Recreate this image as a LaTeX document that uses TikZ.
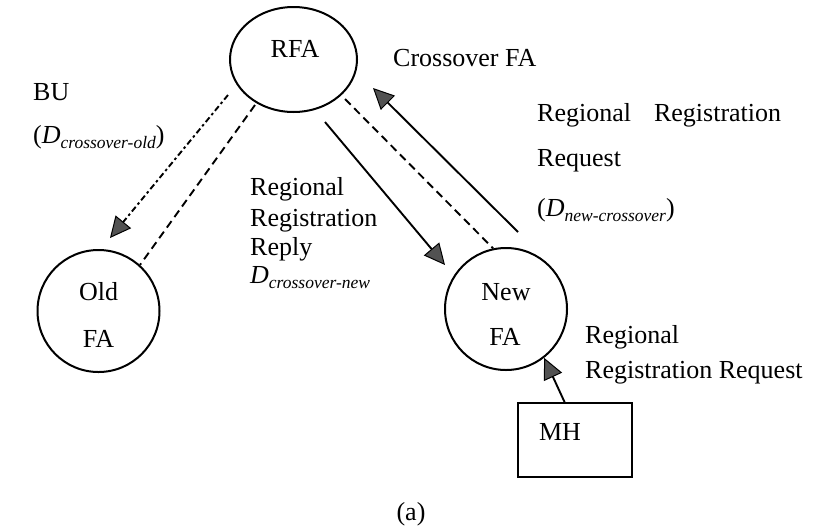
\documentclass[tikz,border=0pt]{standalone}
\usepackage{fontspec}
\setmainfont{Liberation Serif}
\usetikzlibrary{shapes.geometric,arrows.meta}
\newcommand{\Dsub}[1]{\textit{D}\raisebox{-5pt}{\fontsize{17.5}{20}\selectfont\itshape #1}}
\begin{document}
\begin{tikzpicture}[x=1pt,y=-1pt,
  every node/.style={font=\fontsize{26}{30}\selectfont, inner sep=0pt},
  lbl/.style={anchor=base west},
  ctr/.style={anchor=base},
  shapeline/.style={draw, line width=2pt},
  conn/.style={line width=1.9pt},
  head/.style={-{Triangle[length=21pt,width=20pt,fill=black!68,line width=1pt]}},
  dashline/.style={conn, dash pattern=on 8pt off 5pt},
  dashdotline/.style={conn, dash pattern=on 6pt off 3pt on 2.5pt off 3pt}]
\useasboundingbox (0,0) rectangle (813,528);

% nodes
\node[shapeline, ellipse, minimum width=127pt, minimum height=105pt] (rfa) at (293.5,59.5) {};
\node[ctr] (rfat) at (295,57) {RFA};
\node[shapeline, circle, minimum size=122pt] (oldfa) at (98.5,311) {};
\node[ctr] (oldt1) at (98.5,300) {Old};
\node[ctr] (oldt2) at (98.5,347) {FA};
\node[shapeline, circle, minimum size=122pt] (newfa) at (506,309) {};
\node[ctr] (newt1) at (506,300) {New};
\node[ctr] (newt2) at (505,345) {FA};
\node[shapeline, rectangle, minimum width=114pt, minimum height=74pt] (mh) at (575,440) {};
\node[ctr] (mht) at (560,440) {MH};

% labels
\node[lbl] (bu) at (33,100) {BU};
\node[lbl] (buD) at (33,143) {(\Dsub{crossover-old})};
\node[lbl] (cfa) at (393,66) {Crossover FA};
\node[lbl] (rr1) at (250,195) {Regional};
\node[lbl] (rr2) at (250,226) {Registration};
\node[lbl] (rr3) at (250,255) {Reply};
\node[lbl] (rr4) at (250,283) {\Dsub{crossover-new}};
\node[lbl] (rq1) at (537,121) {Regional\hspace{23pt}Registration};
\node[lbl] (rq2) at (537,166) {Request};
\node[lbl] (rq3) at (537,216) {(\Dsub{new-crossover})};
\node[lbl] (mq1) at (585,343) {Regional};
\node[lbl] (mq2) at (585,378) {Registration Request};
\node[ctr] (cap) at (411,520) {(a)};

% connector ends
\coordinate (buS) at (228,95);
\coordinate (buE) at (110,238);
\coordinate (d1S) at (255,105);
\coordinate (replyS) at (325,122);
\coordinate (replyE) at (445,265);
\coordinate (d2S) at (345,99);
\coordinate (reqS) at (518,232);
\coordinate (reqE) at (373,88);
\coordinate (mhS) at (565,403);

% connectors
\draw[dashdotline, head] (buS) -- (buE);
\draw[dashline] (d1S) -- (oldfa.48);
\draw[conn, head] (replyS) -- (replyE);
\draw[dashline] (d2S) -- (newfa.102);
\draw[conn, head] (reqS) -- (reqE);
\draw[conn, head] (mhS) -- (newfa.-52);
\end{tikzpicture}
\end{document}
